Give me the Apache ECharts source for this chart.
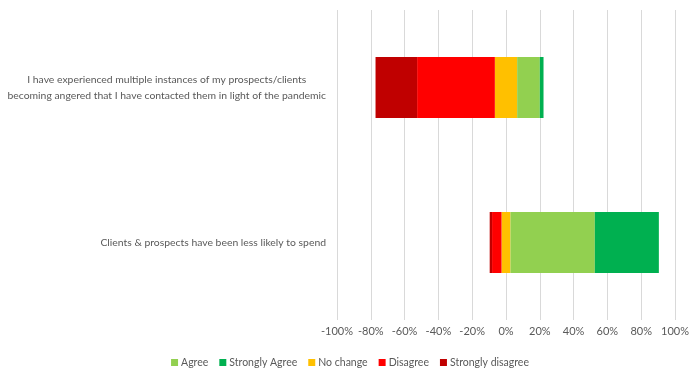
<!DOCTYPE html>
<html>
<head>
<meta charset="utf-8">
<script src="https://cdn.jsdelivr.net/npm/echarts@6/dist/echarts.min.js"></script>
<style>
html, body { margin: 0; padding: 0; background: #fff; }
#chart { width: 700px; height: 377px; }
</style>
</head>
<body>
<div id="chart"></div>
<script>
// categories, top to bottom
var categories = [
    'I have experienced multiple instances of my prospects/clients\nbecoming angered that I have contacted them in light of the pandemic',
    'Clients & prospects have been less likely to spend'
];

// percentages
var stronglyDisagree = [24.6, 1.4];
var disagree = [46.0, 5.6];
var noChange = [13.2, 5.3];
var agree = [13.4, 49.9];
var stronglyAgree = [2.2, 37.9];

var xTicks = [-100, -80, -60, -40, -20, 0, 20, 40, 60, 80, 100];

var colors = {
    'Agree': '#92D050',
    'Strongly Agree': '#00B050',
    'No change': '#FFC000',
    'Disagree': '#FF0000',
    'Strongly disagree': '#C00000'
};

function neg(arr) {
    return arr.map(function (v) { return -v; });
}
function half(arr, sign) {
    return arr.map(function (v) { return sign * v / 2; });
}

function barSeries(name, data) {
    return {
        name: name,
        type: 'bar',
        stack: 'all',
        barWidth: 61,
        itemStyle: { color: colors[name] },
        emphasis: { disabled: true },
        data: data
    };
}

var labelFont = 'Lato, "Liberation Sans", sans-serif';

var option = {
    animation: false,
    color: [colors['Agree'], colors['Strongly Agree'], colors['No change'], colors['Disagree'], colors['Strongly disagree']],
    grid: {
        left: 337,
        right: 25,
        top: 10,
        bottom: 57,
        containLabel: false,
        outerBoundsMode: 'none'
    },
    legend: {
        data: ['Agree', 'Strongly Agree', 'No change', 'Disagree', 'Strongly disagree'],
        top: 352,
        left: 'center',
        itemWidth: 7,
        itemHeight: 7,
        itemGap: 11,
        icon: 'rect',
        textStyle: {
            color: '#595959',
            fontSize: 10.5,
            fontFamily: labelFont,
            padding: [0, 0, 0, -2]
        }
    },
    xAxis: {
        type: 'value',
        min: xTicks[0],
        max: xTicks[xTicks.length - 1],
        interval: 20,
        axisLine: { show: false },
        axisTick: { show: false },
        axisLabel: {
            color: '#595959',
            fontSize: 11,
            fontFamily: labelFont,
            margin: 6,
            formatter: '{value}%'
        },
        splitLine: {
            lineStyle: { color: '#d9d9d9', width: 1 }
        }
    },
    yAxis: {
        type: 'category',
        inverse: true,
        data: categories,
        axisLine: { show: false },
        axisTick: { show: false },
        axisLabel: {
            margin: 11,
            color: '#595959',
            fontSize: 10.4,
            fontFamily: labelFont,
            lineHeight: 16,
            formatter: function (v) {
                return v.split('\n').map(function (s) { return '{c|' + s + '}'; }).join('\n');
            },
            rich: {
                c: {
                    align: 'center',
                    color: '#595959',
                    fontSize: 10.4,
                    fontFamily: labelFont,
                    lineHeight: 16
                }
            }
        }
    },
    series: [
        barSeries('No change', half(noChange, -1)),
        barSeries('Disagree', neg(disagree)),
        barSeries('Strongly disagree', neg(stronglyDisagree)),
        barSeries('No change', half(noChange, 1)),
        barSeries('Agree', agree),
        barSeries('Strongly Agree', stronglyAgree)
    ]
};

var chart = echarts.init(document.getElementById('chart'));
chart.setOption(option);
</script>
</body>
</html>
